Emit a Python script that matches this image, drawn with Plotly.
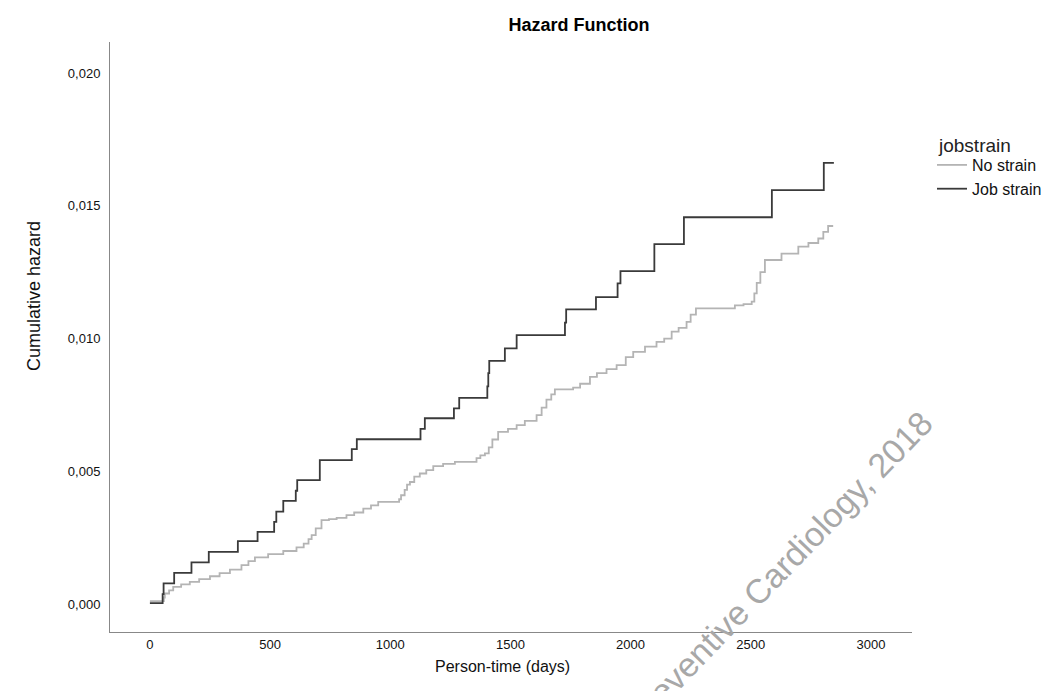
import plotly.graph_objects as go

# ---------------- data ----------------
job_t = [0, 53, 57, 101, 173, 245, 366, 448, 517, 526, 555, 607, 613, 707, 840, 861,
         1126, 1144, 1265, 1287, 1404, 1408, 1412, 1477, 1526, 1727, 1732, 1856,
         1946, 1958, 2099, 2222, 2588, 2804, 2846]
job_h = [0.00004, 0.00038, 0.00078, 0.00118, 0.00157, 0.00197, 0.00237, 0.00272,
         0.00310, 0.00348, 0.00389, 0.00427, 0.00467, 0.00542, 0.00584, 0.00621,
         0.00660, 0.00700, 0.00737, 0.00777, 0.00820, 0.00870, 0.00916, 0.00963,
         0.01013, 0.01060, 0.01110, 0.01156, 0.01208, 0.01254, 0.01356, 0.01457,
         0.01559, 0.01662, 0.01662]

no_t = [0, 58, 62, 80, 97, 130, 166, 205, 250, 290, 333, 381, 410, 437, 492, 555,
        610, 640, 660, 673, 690, 714, 745, 777, 818, 850, 888, 920, 950, 1037, 1045,
        1060, 1070, 1082, 1100, 1123, 1150, 1179, 1220, 1269, 1359, 1375, 1394, 1410,
        1425, 1449, 1490, 1526, 1560, 1609, 1630, 1650, 1670, 1685, 1761, 1790, 1831,
        1860, 1900, 1942, 1980, 2011, 2060, 2108, 2140, 2171, 2200, 2233, 2250, 2272,
        2434, 2470, 2504, 2515, 2525, 2540, 2559, 2628, 2698, 2740, 2781, 2802, 2822,
        2843]
no_h = [0.00011, 0.00025, 0.00040, 0.00052, 0.00065, 0.00074, 0.00084, 0.00094,
        0.00105, 0.00117, 0.00130, 0.00147, 0.00162, 0.00176, 0.00188, 0.00200,
        0.00214, 0.00228, 0.00245, 0.00260, 0.00285, 0.00316, 0.00320, 0.00325,
        0.00335, 0.00345, 0.00360, 0.00372, 0.00385, 0.00395, 0.00410, 0.00430,
        0.00450, 0.00460, 0.00480, 0.00492, 0.00505, 0.00520, 0.00528, 0.00536,
        0.00550, 0.00560, 0.00568, 0.00590, 0.00620, 0.00649, 0.00660, 0.00674,
        0.00690, 0.00712, 0.00740, 0.00770, 0.00790, 0.00809, 0.00815, 0.00830,
        0.00856, 0.00870, 0.00885, 0.00900, 0.00930, 0.00950, 0.00970, 0.00988,
        0.01000, 0.01026, 0.01040, 0.01063, 0.01090, 0.01114, 0.01125, 0.01130,
        0.01139, 0.01170, 0.01210, 0.01250, 0.01296, 0.01320, 0.01346, 0.01360,
        0.01377, 0.01402, 0.01424, 0.01424]

series_names = ["No strain", "Job strain"]
legend_title = "jobstrain"
x_ticks = [0, 500, 1000, 1500, 2000, 2500, 3000]
y_ticks = [0.000, 0.005, 0.010, 0.015, 0.020]
y_tick_labels = ["0,000", "0,005", "0,010", "0,015", "0,020"]

# ---------------- layout helpers ----------------
W, H = 1047, 691
L, R, T, B = 110, 912, 42, 632  # plot area in pixels (body margin removed below)


def px(x):  # pixel x -> paper
    return (x - L) / (R - L)


def py(y):  # pixel y -> paper
    return (B - y) / (B - T)


FONT = "Liberation Sans, Arial, sans-serif"

fig = go.Figure()
fig.add_trace(go.Scatter(x=no_t, y=no_h, mode="lines", name=series_names[0],
                         line=dict(shape="hv", color="#b4b4b4", width=1.8)))
fig.add_trace(go.Scatter(x=job_t, y=job_h, mode="lines", name=series_names[1],
                         line=dict(shape="hv", color="#3a3a3a", width=1.8)))

fig.update_layout(
    width=W, height=H,
    margin=dict(l=L, r=W - R, t=T, b=H - B, autoexpand=False),
    paper_bgcolor="white", plot_bgcolor="white",
    font=dict(family=FONT, color="#000000", size=13),
    showlegend=True,
    legend=dict(
        x=px(932), y=py(148), xanchor="left", yanchor="top",
        font=dict(size=16, color="#111"),
        itemwidth=30, tracegroupgap=0,
        bgcolor="rgba(0,0,0,0)",
    ),
    title=dict(text="<b>Hazard Function</b>", x=579 / W, y=1 - 25 / H,
               xanchor="center", yanchor="middle",
               font=dict(size=18, color="#000")),
)

fig.update_xaxes(
    range=[-166, 3171], tickvals=x_ticks, ticks="", showgrid=False, zeroline=False,
    showline=True, linecolor="#888888", linewidth=1,
    tickfont=dict(size=13, color="#111"),
)
fig.update_yaxes(
    range=[-0.00105, 0.02117], tickvals=y_ticks, ticktext=y_tick_labels, ticks="",
    showgrid=False, zeroline=False, showline=True, linecolor="#888888", linewidth=1,
    tickfont=dict(size=13, color="#111"), ticklabelstandoff=6,
)

# legend title
fig.add_annotation(text=legend_title, xref="paper", yref="paper",
                   x=px(936), y=py(145), xanchor="left", yanchor="middle",
                   showarrow=False, font=dict(size=19, color="#222"))

# axis titles
fig.add_annotation(text="Cumulative hazard", xref="paper", yref="paper",
                   x=px(22), y=py(296), textangle=-90, showarrow=False,
                   font=dict(size=18, color="#111"))
fig.add_annotation(text="Person-time (days)", xref="paper", yref="paper",
                   x=px(502), y=py(677), showarrow=False,
                   font=dict(size=16, color="#111"))

# watermark
fig.add_annotation(text="European Journal of Preventive Cardiology, 2018",
                   xref="paper", yref="paper", x=px(943), y=py(401),
                   xanchor="right", yanchor="top", textangle=-46, showarrow=False,
                   font=dict(size=34, color="#a8a8a8"))

fig.write_html("out.html",
               config={"displayModeBar": False},
               post_script="document.body.style.margin='0';document.body.style.overflow='hidden';")
